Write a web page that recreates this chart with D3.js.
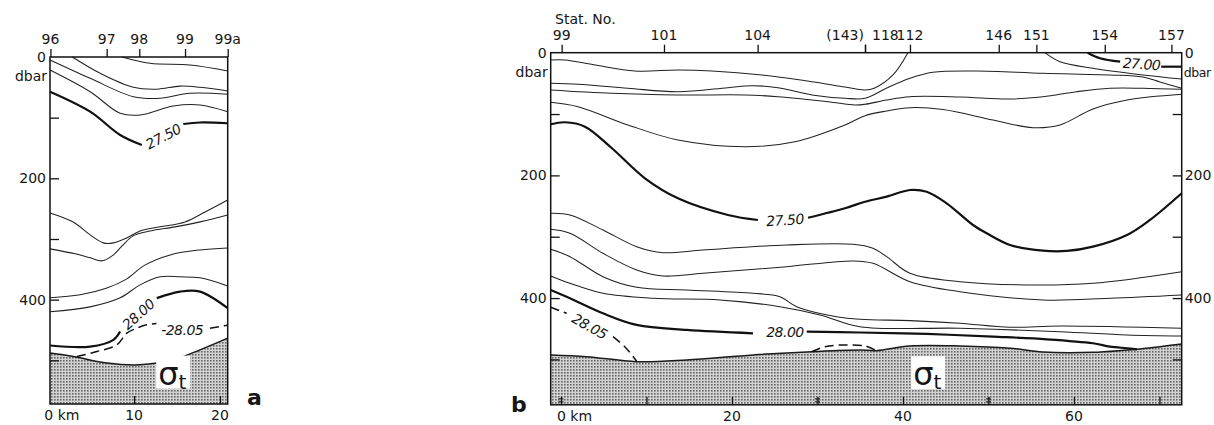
<!DOCTYPE html>
<html><head><meta charset="utf-8">
<script src="https://cdn.jsdelivr.net/npm/d3@7"></script>
<style>
body{margin:0;background:#fff;}
svg{display:block;}
text{font-family:"DejaVu Sans",sans-serif;fill:#161616;}
</style></head><body>
<svg id="c" width="1214" height="425"></svg>
<script>
// ---------------- Panel a data (x = km, y = dbar) ----------------
const aStations = ["96", "97", "98", "99", "99a"];
const aStationKm = [0.25, 6.8, 10.6, 15.93, 20.9];
const aKmTicks = [0, 10, 20];
const aDbarTicks = [100, 200, 300, 400, 500];
const aDbarLabels = [0, 200, 400];

const aThin1 = [[8.57,0],[11.86,10.4],[16.51,13.2],[20.9,23]];
const aThin2 = [[2.8,0],[6.05,26.9],[9.92,50],[12.64,53],[15.35,48],[17.67,50],[20.9,56]];
const aThin3 = [[0.2,4.9],[4.88,35.1],[9.92,65.4],[13.02,68],[16.51,59.8],[20.9,61.4]];
const aThin4 = [[0.2,21.4],[4.88,57.2],[8.37,92.8],[10.7,95.6],[14.57,80.7],[17.67,79],[20.9,90.1]];
const a2750L = [[0.2,57.2],[4.88,90.1],[8.37,128.5],[10.9,145]];
const a2750R = [[15.73,110.4],[17.67,108],[20.9,109.2]];
const aThin5 = [[0.2,257],[2.9,272],[4.88,293.3],[6.4,306.4],[7.59,306.4],[9.19,298.1],[10.7,286.7],[13.02,280],[15.93,271.8],[18.26,255.4],[20.9,235.6]];
const aThin6 = [[0.2,316.3],[3.14,324.5],[4.88,331.1],[6.28,336],[7.59,326.2],[8.6,311.4],[9.88,294.9],[11.86,286.7],[14.77,280],[17.67,271.8],[20.9,260.3]];
const aThin7 = [[0.2,397],[3.72,392],[6.83,380.7],[8.95,367.4],[11.3,342.7],[14.2,326.2],[17.67,318],[20.9,314.7]];
const aThin8 = [[0.2,420],[4.88,411.9],[8.37,397],[10.7,375.6],[13.02,362.4],[15.35,362.4],[17.67,364],[20.9,377.3]];
const a2800L = [[0.2,475.6],[4.88,477.3],[7.59,466.2],[8.37,452.6]];
const a2800R = [[12.64,397.5],[15.35,386.7],[17.67,386.7],[20.9,414]];
const a2805L = [[3.34,493.7],[5.66,485.5],[7.99,474.5],[9.15,455.2],[10.31,447],[11.48,441.5],[12.6,439.5]];
const a2805R = [[18.84,447],[20.9,442]];
const aBottom = [[0.2,488],[2.94,493.7],[6.83,504.6],[10.7,507.4],[14.57,499.2],[17.67,482.7],[20.9,463.4]];
// label positions [text, km, dbar, angle]
const aLabels = [["27.50", 13.4, 131, -28], ["28.00", 10.5, 424, -42], ["-28.05", 15.6, 450, 0]];

// ---------------- Panel b data ----------------
const bStations = ["99", "101", "104", "(143)", "118", "112", "146", "151", "154", "157"];
const bStationKm = [0.08, 12.05, 23.0, 35.56, 35.56, 40.82, 51.2, 55.6, 63.6, 71.4];
const bKmTicks = [0, 10, 20, 30, 40, 50, 60, 70];
const bKmLabels = [0, 20, 40, 60];
const bDoubleTicks = [0, 30, 50];
const bDbarTicks = [100, 200, 300, 400, 500];
const bDbarLabels = [0, 200, 400];

const bThin1 = [[-1.2,11.9],[0.47,11.9],[3.98,20],[8.65,29.8],[13.68,28.2],[17.66,29.8],[23.5,36.3],[29.36,47.3],[33.2,55.9],[35.56,60.8],[36.7,57.5],[38.83,36.3],[40.58,0]];
const bThin2 = [[-1.2,49.9],[1.99,51.5],[7.84,58],[13.68,63.6],[19.53,57],[22.34,53.8],[25.38,57],[29.36,68.9],[33.22,74.3],[35.56,74.3],[38.1,57.5],[40.82,41.7],[43.5,31.9],[48.6,29.8],[56.37,33.6],[64.2,36.3],[68.07,39.6],[70.06,47.8],[72.6,58]];
const bThin3 = [[-1.2,60.8],[5.96,66.2],[13.68,68.9],[21.52,68.9],[25.38,71.7],[31.23,79.9],[34.39,85.3],[35.56,84.1],[38.1,77.1],[40.82,71.7],[46.67,72.2],[52.5,75.5],[56.37,71.7],[60.3,63.6],[64.2,58],[68.07,58],[72.6,59.7]];
const bThin4 = [[-1.2,80.8],[1.99,88],[7.84,117.8],[13.68,142.3],[21.52,153.2],[27.37,145.1],[33.22,117.8],[35.56,102.7],[38.1,95],[40.82,89.6],[44.68,92.6],[50.53,109.7],[55.2,122.2],[58.36,117.8],[62.22,91.8],[66.2,77.1],[72.6,67.8]];
const bThin5 = [[56.6,0],[58.36,14.7],[62.22,25.4],[68.07,36.3],[72.6,42.9]];
const b2700L = [[61.6,0],[63.04,9.1],[65.4,14.7]];
const b2700R = [[70.2,22.8],[72.6,22.8]];
const b2750L = [[-1.2,116.7],[0.47,113.4],[2.81,120.6],[5.96,155.8],[9.82,204.7],[13.68,237.3],[19.53,264.5],[23.04,272.7]];
const b2750R = [[28.9,269],[33.22,253.6],[35.56,242.9],[38.1,234.7],[40.82,223.8],[42.77,226.6],[45.11,245.5],[48.19,280.9],[49.79,294.4],[52.51,313.4],[56.37,322.7],[59.18,323.2],[62.22,316.2],[66.2,297.1],[68.89,272.7],[72.6,229.2]];
const bThin6 = [[-1.2,261.8],[1.05,264.5],[4.91,289],[8.85,316.2],[11.93,326],[16.61,321.6],[26.4,313.4],[34.15,312.3],[36.49,318.8],[38.1,332.5],[40.82,359.6],[46.67,373.3],[54.47,378.6],[62.22,375.9],[72.6,357]];
const bThin7 = [[-1.2,287.9],[1.05,294.4],[4.91,327],[8.85,354.2],[11.93,364],[16.61,359.6],[26.4,348.8],[34.15,339.5],[36.49,343.3],[40.82,373.3],[46.67,389.6],[56.37,403.1],[64.2,400.3],[72.6,394.9]];
const bThin8 = [[-1.2,320.5],[1.05,332.5],[4.91,365.1],[8.85,382.4],[14.7,386.8],[22.46,392.2],[25.6,397.7],[27.57,414],[32.25,430.3],[34.97,434.6],[40.82,436.8],[46.67,441.1],[52.51,447.6],[58.36,445.5],[72.6,449.2]];
const bThin9 = [[-1.2,364],[1.05,375.9],[4.91,392.2],[10.76,400.3],[18.6,403.1],[25.6,414],[30.29,427.5],[34.97,446.6],[46.67,449.2],[58.36,454.8],[66.2,460.1],[72.6,461.8]];
const b2800L = [[-1.2,386.8],[1.05,400.3],[4.91,424.8],[8.85,443.8],[14.7,452],[22.46,457.4]];
const b2800R = [[28.74,454.8],[34.97,456.1],[42.77,458.5],[50.53,462.9],[56.81,467.2],[62.22,473.7],[64.2,479.2],[66.2,481.8],[67.37,483.5]];
const b2805L = [[-1.2,415],[0.67,424.8]];
const b2805R = [[6.08,462.9],[7.49,479.7],[8.85,503]];
const b2805Bump = [[29.32,487.4],[30.88,479.2],[33.22,476.4],[35.56,478.1],[36.9,485.7]];
const bBottom = [[-1.2,492.7],[3.0,495.5],[8.85,503.7],[14.7,500.9],[22.46,492.7],[29.32,487.4],[34.97,484.6],[36.9,485.7],[40.82,478.1],[46.67,478.1],[52.51,481.8],[56.37,487.9],[62.22,488.4],[66.2,484.6],[67.37,483.5],[70.06,479.2],[72.6,474.8]];
const bLabels = [["27.50", 26.2, 272.7, -4], ["28.00", 26.2, 455, 0], ["28.05", 3.35, 446, 29], ["27.00", 67.9, 18.5, 4]];

// ---------------- drawing ----------------
const svg = d3.select("#c");
const defs = svg.append("defs");
const pat = defs.append("pattern").attr("id", "stip").attr("width", 3).attr("height", 3)
  .attr("patternUnits", "userSpaceOnUse");
pat.append("rect").attr("width", 3).attr("height", 3).attr("fill", "#d2d2d2");
pat.append("rect").attr("width", 1.6).attr("height", 1.6).attr("fill", "#666");

function drawPanel(o) {
  const x = d3.scaleLinear().domain(o.xDomain).range(o.xRange);
  const y = d3.scaleLinear().domain(o.yDomain).range(o.yRange);
  const g = svg.append("g");
  const line = d3.line().x(d => x(d[0])).y(d => y(d[1])).curve(d3.curveCatmullRom.alpha(0.5));
  const [x0, x1] = o.xRange, [y0, y1] = o.yRange;

  // bottom (sea floor) area
  const area = d3.area().x(d => x(d[0])).y0(y(o.yDomain[1])).y1(d => y(d[1])).curve(d3.curveCatmullRom.alpha(0.5));
  g.append("path").datum(o.bottom).attr("d", area).attr("fill", "url(#stip)");
  g.append("path").datum(o.bottom).attr("d", line).attr("fill", "none").attr("stroke", "#1a1a1a").attr("stroke-width", 1.5);

  o.thin.forEach(c => g.append("path").datum(c).attr("d", line).attr("fill", "none")
    .attr("stroke", "#222").attr("stroke-width", 1.05));
  o.thick.forEach(c => g.append("path").datum(c).attr("d", line).attr("fill", "none")
    .attr("stroke", "#111").attr("stroke-width", 2.2));
  o.dashed.forEach(c => g.append("path").datum(c).attr("d", line).attr("fill", "none")
    .attr("stroke", "#111").attr("stroke-width", 1.5).attr("stroke-dasharray", "9,5"));

  // frame
  g.append("rect").attr("x", x0).attr("y", y0).attr("width", x1 - x0).attr("height", y1 - y0)
    .attr("fill", "none").attr("stroke", "#111").attr("stroke-width", 1.5);

  // station ticks on top
  const tAxis = d3.axisTop(x).tickValues(o.stationKm).tickSize(8).tickFormat("");
  const ta = g.append("g").attr("transform", `translate(0,${y0})`).call(tAxis);
  ta.select(".domain").remove();
  ta.selectAll("line").attr("stroke", "#111").attr("stroke-width", 1.3);
  o.stations.forEach((s, i) => {
    const k = o.stationKm[i];
    let anchor = "middle", dx = 0;
    if (i > 0 && o.stationKm[i - 1] === k) { anchor = "start"; dx = 7; }
    else if (i < o.stations.length - 1 && o.stationKm[i + 1] === k) { anchor = "end"; dx = -1; }
    g.append("text").attr("x", x(k) + dx).attr("y", y0 - o.stationGap).attr("text-anchor", anchor)
      .attr("font-size", 14).text(s);
  });

  // km ticks (inward from bottom)
  const bAxis = d3.axisTop(x).tickValues(o.kmTicks.filter(k => x(k) >= x0 && x(k) <= x1)).tickSize(8).tickFormat("");
  const ba = g.append("g").attr("transform", `translate(0,${y1})`).call(bAxis);
  ba.select(".domain").remove();
  ba.selectAll("line").attr("stroke", "#111").attr("stroke-width", 1.3);
  (o.doubleTicks || []).forEach(k => {
    [3, 6].forEach(dy => g.append("line").attr("x1", x(k) - 2.5).attr("x2", x(k) + 2.5)
      .attr("y1", y1 - dy).attr("y2", y1 - dy).attr("stroke", "#111").attr("stroke-width", 1));
  });
  o.kmLabels.forEach(k => {
    const t = g.append("text").attr("y", y1 + 16).attr("font-size", 14);
    if (k === 0) t.attr("x", x(0) - 4).attr("text-anchor", "start").text("0 km");
    else t.attr("x", x(k)).attr("text-anchor", "middle").text(k);
  });

  // dbar ticks on left (inward)
  const lAxis = d3.axisRight(y).tickValues(o.dbarTicks).tickSize(9).tickFormat("");
  const la = g.append("g").attr("transform", `translate(${x0},0)`).call(lAxis);
  la.select(".domain").remove();
  la.selectAll("line").attr("stroke", "#111").attr("stroke-width", 1.3);
  o.dbarLabels.forEach(v => g.append("text").attr("x", x0 - 4).attr("y", y(v)).attr("dy", "0.36em")
    .attr("text-anchor", "end").attr("font-size", 14).text(v));
  g.append("text").attr("x", x0 - 3).attr("y", y(0) + 24).attr("text-anchor", "end").attr("font-size", 14).text("dbar");

  if (o.rightAxis) {
    const rAxis = d3.axisLeft(y).tickValues(o.dbarTicks).tickSize(9).tickFormat("");
    const ra = g.append("g").attr("transform", `translate(${x1},0)`).call(rAxis);
    ra.select(".domain").remove();
    ra.selectAll("line").attr("stroke", "#111").attr("stroke-width", 1.3);
    o.dbarLabels.forEach(v => g.append("text").attr("x", x1 + 3).attr("y", y(v)).attr("dy", "0.36em")
      .attr("text-anchor", "start").attr("font-size", 14).text(v));
    g.append("text").attr("x", x1 + 2).attr("y", y(0) + 24).attr("text-anchor", "start")
      .attr("font-size", 12.5).attr("letter-spacing", "-0.4").text("dbar");
  }

  // contour labels
  o.labels.forEach(l => {
    g.append("text").attr("transform", `translate(${x(l[1])},${y(l[2])}) rotate(${l[3]})`)
      .attr("text-anchor", "middle").attr("dy", "0.36em").attr("font-size", 14)
      .attr("font-style", "italic").attr("letter-spacing", "-0.5").text(l[0]);
  });

  // sigma-t box
  const sg = g.append("g").attr("transform", `translate(${x(o.sigma[0])},${y(o.sigma[1])})`);
  sg.append("rect").attr("x", -2).attr("y", -29).attr("width", 34).attr("height", 33).attr("fill", "#fff");
  const st = sg.append("text").attr("font-size", 32).attr("x", 0).attr("y", 0);
  st.append("tspan").text("σ");
  st.append("tspan").attr("font-size", 20).attr("dy", 4).text("t");

  // panel letter
  g.append("text").attr("x", o.letterPos[0]).attr("y", o.letterPos[1]).attr("font-size", 22)
    .attr("font-weight", "bold").text(o.letter);
  if (o.extra) o.extra(g, x, y);
}

drawPanel({
  xDomain: [0.2, 20.9], xRange: [50, 227.7],
  yDomain: [0, 572], yRange: [57, 404],
  stations: aStations, stationKm: aStationKm, stationGap: 13,
  kmTicks: aKmTicks, kmLabels: aKmTicks,
  dbarTicks: aDbarTicks, dbarLabels: aDbarLabels,
  thin: [aThin1, aThin2, aThin3, aThin4, aThin5, aThin6, aThin7, aThin8],
  thick: [a2750L, a2750R, a2800L, a2800R],
  dashed: [a2805L, a2805R],
  bottom: aBottom, labels: aLabels,
  sigma: [12.8, 540], letter: "a", letterPos: [247, 405]
});

drawPanel({
  xDomain: [-1.2, 72.6], xRange: [550.7, 1181.7],
  yDomain: [0, 574], yRange: [52.7, 404.8],
  stations: bStations, stationKm: bStationKm, stationGap: 13,
  kmTicks: bKmTicks, kmLabels: bKmLabels, doubleTicks: bDoubleTicks,
  dbarTicks: bDbarTicks, dbarLabels: bDbarLabels, rightAxis: true,
  thin: [bThin1, bThin2, bThin3, bThin4, bThin5, bThin6, bThin7, bThin8, bThin9],
  thick: [b2700L, b2700R, b2750L, b2750R, b2800L, b2800R],
  dashed: [b2805L, b2805R, b2805Bump],
  bottom: bBottom, labels: bLabels,
  sigma: [41.2, 542], letter: "b", letterPos: [511, 412],
  extra: (g) => g.append("text").attr("x", 555).attr("y", 24).attr("font-size", 14).text("Stat. No.")
});
</script>
</body></html>
